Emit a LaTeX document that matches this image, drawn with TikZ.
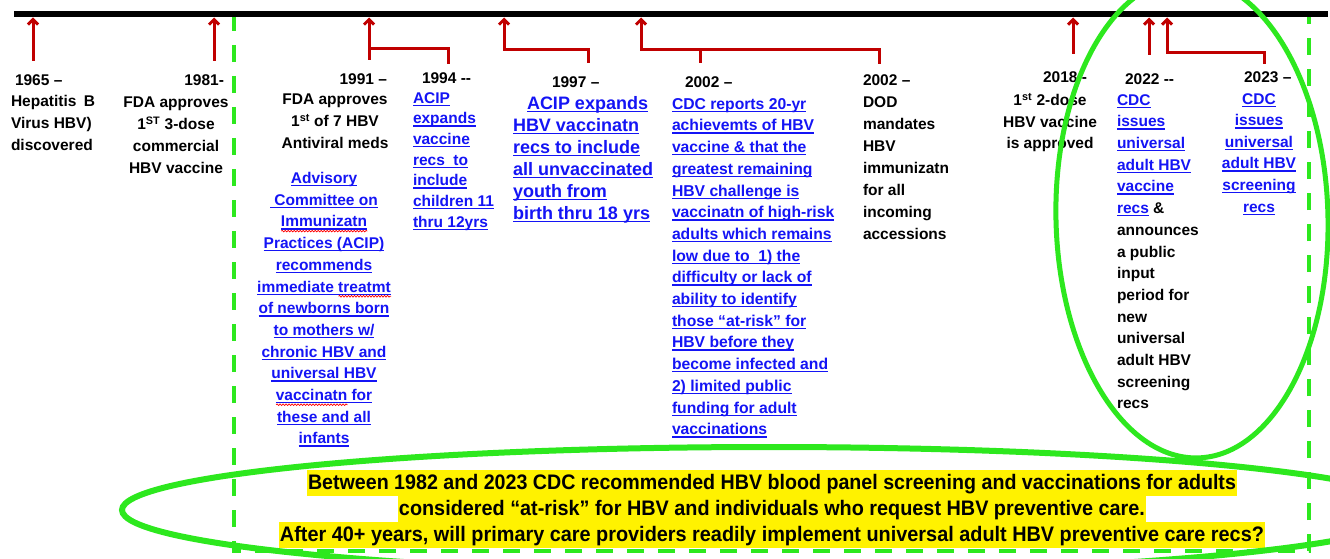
\documentclass[tikz,border=0pt]{standalone}
\usepackage{graphicx}
\usepackage{fontspec}
\setmainfont{Liberation Sans}
\usetikzlibrary{arrows.meta,decorations.pathmorphing}
\definecolor{tred}{RGB}{192,0,0}
\definecolor{tgreen}{RGB}{45,232,30}
\definecolor{tblue}{RGB}{20,20,245}
\newsavebox\ubox
\newsavebox\wbox
\newcommand\lnk[1]{{\color{tblue}\sbox\ubox{#1}\rlap{\rule[-2.8pt]{\wd\ubox}{1.3pt}}\usebox\ubox}}
\newcommand\wav[1]{\sbox\wbox{#1}\rlap{\tikz[baseline=0pt,x=1pt,y=1pt]\draw[draw=red,line width=0.7pt,decorate,decoration={snake,amplitude=0.8pt,segment length=3pt}] (0,-4.2) -- (\the\wd\wbox,-4.2);}\usebox\wbox}
\begin{document}
\begin{tikzpicture}[x=1pt,y=-1pt,
  every node/.style={inner sep=0pt,outer sep=0pt},
  txt/.style={font=\fontsize{15.5}{21.7}\selectfont\bfseries,text=black},
  arr/.style={draw=tred,line width=3pt,-{Straight Barb[length=5pt,width=10pt]}},
  redline/.style={draw=tred,line width=3pt},
  greendash/.style={draw=tgreen,line width=3.5pt,dash pattern=on 17pt off 14pt},
  hl/.style={fill=yellow,anchor=base,text height=19pt,text depth=7pt,inner xsep=1pt,font=\fontsize{21}{25}\selectfont\bfseries},
  ring/.style={draw=tgreen,line width=5.5pt}]
\useasboundingbox (0,0) rectangle (1330,559);
\clip (0,0) rectangle (1330,559);
\fill[white] (0,0) rectangle (1330,559);
% dashed frame
\draw[greendash] (234,14) rectangle (1309,551);
% timeline bar
\coordinate (barL) at (14,14);
\coordinate (barR) at (1328,14);
\draw[line width=6.5pt] (barL) -- (barR);
% arrow coordinates
\coordinate (t1965) at (33,17.5);   \coordinate (b1965) at (33,61);
\coordinate (t1981) at (214,17.5);  \coordinate (b1981) at (214,61);
\coordinate (t1991) at (369,17.5);  \coordinate (b1991) at (369,60);
\coordinate (k1991) at (369,49);    \coordinate (e1994) at (448,64);
\coordinate (t1997) at (504,17.5);  \coordinate (k1997) at (504,50);  \coordinate (e1997) at (588,63);
\coordinate (t2002) at (641,17.5);  \coordinate (k2002) at (641,50);  \coordinate (e2002d) at (879,64);
\coordinate (m2002a) at (700,50);   \coordinate (m2002b) at (700,63);
\coordinate (t2018) at (1073,17.5); \coordinate (b2018) at (1073,54);
\coordinate (t2022) at (1149,17.5); \coordinate (b2022) at (1149,55);
\coordinate (t2023) at (1167,17.5); \coordinate (k2023) at (1167,53); \coordinate (e2023) at (1264,64);
% arrows
\draw[arr] (b1965) -- (t1965);
\draw[arr] (b1981) -- (t1981);
\draw[arr] (b1991) -- (t1991);
\draw[redline] (k1991) -| (e1994);
\draw[arr] (e1997) |- (k1997) -- (t1997);
\draw[arr] (e2002d) |- (k2002) -- (t2002);
\draw[redline] (m2002a) -- (m2002b);
\draw[arr] (b2018) -- (t2018);
\draw[arr] (b2022) -- (t2022);
\draw[arr] (e2023) |- (k2023) -- (t2023);
% 1965
\node[txt,align=left,anchor=north west] (n1965) at (11,74.3) {\hspace*{4pt}1965 –\\Hepatitis\hspace{3pt} B\\Virus HBV)\\discovered};
% 1981
\node[txt,anchor=base east] (y1981) at (224,85.6) {1981-};
\node[txt,align=center,anchor=north] (n1981) at (176,97.3) {FDA approves\\1\textsuperscript{ST} 3-dose\\commercial\\HBV vaccine};
% 1991
\node[txt,anchor=base east] (y1991) at (387,84.6) {1991 –};
\node[txt,align=center,anchor=north] (n1991) at (335,94.3) {FDA approves\\1\textsuperscript{st} of 7 HBV\\Antiviral meds};
\node[txt,align=center,anchor=north] (acip) at (324,172.3) {\lnk{Advisory}\\\lnk{\ Committee on}\\\lnk{\wav{Immunizatn}}\\\lnk{Practices (ACIP)}\\\lnk{recommends}\\\lnk{immediate \wav{treatmt}}\\\lnk{of newborns born}\\\lnk{to mothers w/}\\\lnk{chronic HBV and}\\\lnk{universal HBV}\\\lnk{\wav{vaccinatn} for}\\\lnk{these and all}\\\lnk{infants}};
% 1994
\node[txt,anchor=base west] (y1994) at (422,83.6) {1994 -{}-};
\node[txt,font=\fontsize{15.5}{20.7}\selectfont\bfseries,align=left,anchor=north west] (n1994) at (413,92.3) {\lnk{ACIP}\\\lnk{expands}\\\lnk{vaccine}\\\lnk{recs\ \ to}\\\lnk{include}\\\lnk{children 11}\\\lnk{thru 12yrs}};
% 1997
\node[txt,anchor=base west] (y1997) at (552,87.6) {1997 –};
\node[txt,font=\fontsize{18}{22}\selectfont\bfseries,align=left,anchor=north west] (n1997) at (513,96.5) {\hspace*{14pt}\lnk{ACIP expands}\\\lnk{HBV vaccinatn}\\\lnk{recs to include}\\\lnk{all unvaccinated}\\\lnk{youth from}\\\lnk{birth thru 18 yrs}};
% 2002 CDC
\node[txt,anchor=base west] (y2002) at (685,87.6) {2002 –};
\node[txt,font=\fontsize{15.7}{21.7}\selectfont\bfseries,align=left,anchor=north west] (n2002) at (672,98.3) {\lnk{CDC reports 20-yr}\\\lnk{achievemts of HBV}\\\lnk{vaccine \& that the}\\\lnk{greatest remaining}\\\lnk{HBV challenge is}\\\lnk{vaccinatn of high-risk}\\\lnk{adults which remains}\\\lnk{low due to\ \ 1) the}\\\lnk{difficulty or lack of}\\\lnk{ability to identify}\\\lnk{those “at-risk” for}\\\lnk{HBV before they}\\\lnk{become infected and}\\\lnk{2) limited public}\\\lnk{funding for adult}\\\lnk{vaccinations}};
% 2002 DOD
\node[txt,font=\fontsize{15.5}{22}\selectfont\bfseries,align=left,anchor=north west] (ndod) at (863,74.3) {2002 –\\DOD\\mandates\\HBV\\immunizatn\\for all\\incoming\\accessions};
% 2018
\node[txt,anchor=base west] (y2018) at (1043,82.6) {2018 -};
\node[txt,font=\fontsize{15.5}{21.5}\selectfont\bfseries,align=center,anchor=north] (n2018) at (1050,93.3) {1\textsuperscript{st} 2-dose\\HBV vaccine\\is approved};
% 2022
\node[txt,anchor=base west] (y2022) at (1125,84.6) {2022 -{}-};
\node[txt,align=left,anchor=north west] (n2022) at (1117,94.3) {\lnk{CDC}\\\lnk{issues}\\\lnk{universal}\\\lnk{adult HBV}\\\lnk{vaccine}\\\lnk{recs} \&\\announces\\a public\\input\\period for\\new\\universal\\adult HBV\\screening\\recs};
% 2023
\node[txt,anchor=base west] (y2023) at (1244,82.6) {2023 –};
\node[txt,font=\fontsize{15.5}{21.6}\selectfont\bfseries,align=center,anchor=north] (n2023) at (1259,93.3) {\lnk{CDC}\\\lnk{issues}\\\lnk{universal}\\\lnk{adult HBV}\\\lnk{screening}\\\lnk{recs}};
% bottom highlighted statement
\node[hl] (s1) at (772,489) {\resizebox{928pt}{\height}{Between 1982 and 2023 CDC recommended HBV blood panel screening and vaccinations for adults}};
\node[hl] (s2) at (772,515) {\resizebox{746pt}{\height}{considered “at-risk” for HBV and individuals who request HBV preventive care.}};
\node[hl] (s3) at (772,541) {\resizebox{984pt}{\height}{After 40+ years, will primary care providers readily implement universal adult HBV preventive care recs?}};
% green rings
\coordinate (rc) at (1192,218);
\coordinate (bc) at (769,510);
\draw[ring,line width=5pt,rotate around={1.4:(rc)}] (rc) ellipse [x radius=136, y radius=240];
\draw[ring,line width=6pt] (bc) ellipse [x radius=647, y radius=63];
\end{tikzpicture}
\end{document}
